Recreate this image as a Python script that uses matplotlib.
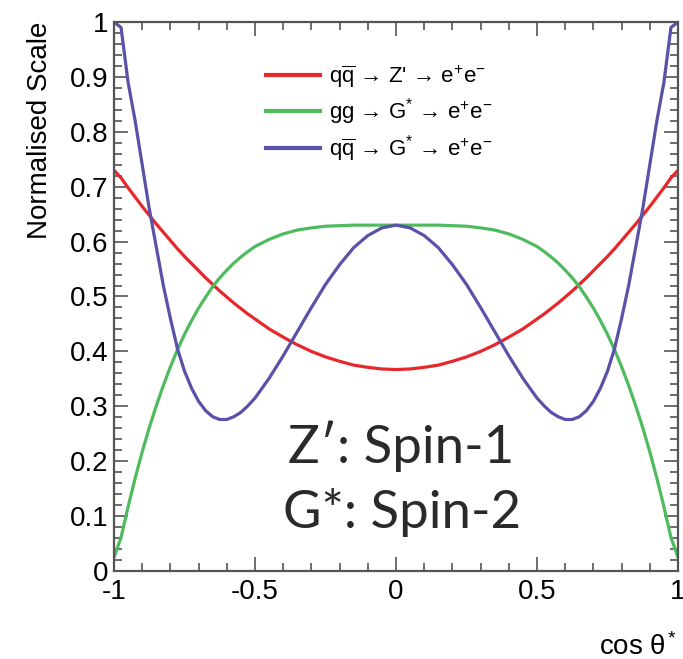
import numpy as np
import matplotlib
matplotlib.use("Agg")
import matplotlib.pyplot as plt
from matplotlib.ticker import MultipleLocator

plt.rcParams['font.family'] = ['Liberation Sans', 'DejaVu Sans']
plt.rcParams['mathtext.fontset'] = 'custom'
plt.rcParams['mathtext.rm'] = 'Liberation Sans'
plt.rcParams['mathtext.it'] = 'Liberation Sans'
plt.rcParams['axes.unicode_minus'] = False

# cos(theta*) points (finer near the edges)
cos_theta = [-1.0, -0.975, -0.95, -0.925, -0.9, -0.875, -0.85, -0.825, -0.8, -0.775,
             -0.75, -0.725, -0.7, -0.675, -0.65, -0.625, -0.6, -0.575, -0.55, -0.525,
             -0.5, -0.45, -0.4, -0.35, -0.3, -0.25, -0.2, -0.15, -0.1, -0.05, 0.0,
             0.05, 0.1, 0.15, 0.2, 0.25, 0.3, 0.35, 0.4, 0.45, 0.5,
             0.525, 0.55, 0.575, 0.6, 0.625, 0.65, 0.675, 0.7, 0.725, 0.75,
             0.775, 0.8, 0.825, 0.85, 0.875, 0.9, 0.925, 0.95, 0.975, 1.0]

# q qbar -> Z' -> e+e-
z_spin1 = [0.730, 0.716, 0.698, 0.681, 0.664, 0.648, 0.632, 0.617, 0.602, 0.587,
           0.573, 0.560, 0.547, 0.534, 0.522, 0.510, 0.499, 0.488, 0.478, 0.468,
           0.459, 0.441, 0.426, 0.412, 0.400, 0.390, 0.382, 0.375, 0.371, 0.368, 0.367,
           0.368, 0.371, 0.375, 0.382, 0.390, 0.400, 0.412, 0.426, 0.441, 0.459,
           0.468, 0.478, 0.488, 0.499, 0.510, 0.522, 0.534, 0.547, 0.560, 0.573,
           0.587, 0.602, 0.617, 0.632, 0.648, 0.664, 0.681, 0.698, 0.716, 0.730]

# gg -> G* -> e+e-
g_gg = [0.025, 0.061, 0.117, 0.169, 0.217, 0.261, 0.301, 0.338, 0.372, 0.403,
        0.431, 0.456, 0.479, 0.499, 0.518, 0.534, 0.548, 0.561, 0.572, 0.582,
        0.591, 0.604, 0.614, 0.621, 0.625, 0.628, 0.629, 0.630, 0.630, 0.630, 0.630,
        0.630, 0.630, 0.630, 0.629, 0.628, 0.625, 0.621, 0.614, 0.604, 0.591,
        0.582, 0.572, 0.561, 0.548, 0.534, 0.518, 0.499, 0.479, 0.456, 0.431,
        0.403, 0.372, 0.338, 0.301, 0.261, 0.217, 0.169, 0.117, 0.061, 0.025]

# q qbar -> G* -> e+e-
g_qq = [1.0, 0.99, 0.89, 0.82, 0.74, 0.66, 0.59, 0.52, 0.46, 0.405,
        0.364, 0.333, 0.309, 0.292, 0.281, 0.276, 0.276, 0.281, 0.289, 0.301,
        0.315, 0.351, 0.392, 0.436, 0.480, 0.522, 0.558, 0.589, 0.611, 0.625, 0.630,
        0.625, 0.611, 0.589, 0.558, 0.522, 0.480, 0.436, 0.392, 0.351, 0.315,
        0.301, 0.289, 0.281, 0.276, 0.276, 0.281, 0.292, 0.309, 0.333, 0.364,
        0.405, 0.46, 0.52, 0.59, 0.66, 0.74, 0.82, 0.89, 0.99, 1.0]

labels = [r"$\mathrm{q\overline{q}}$ → Z' → e$^{+}$e$^{-}$",
          r"gg → G$^{*}$ → e$^{+}$e$^{-}$",
          r"$\mathrm{q\overline{q}}$ → G$^{*}$ → e$^{+}$e$^{-}$"]
colors = ['#e8272b', '#4fbb5e', '#5a51a8']

fig = plt.figure(figsize=(6.83, 6.59), dpi=100)
ax = fig.add_axes([114 / 683, 1 - 571 / 659, 564 / 683, 549 / 659])

for ys, lab, col in zip([z_spin1, g_gg, g_qq], labels, colors):
    ax.plot(cos_theta, ys, color=col, lw=2.3, label=lab)

ax.set_xlim(-1, 1)
ax.set_ylim(0, 1)

ax.xaxis.set_major_locator(MultipleLocator(0.5))
ax.xaxis.set_minor_locator(MultipleLocator(0.1))
ax.yaxis.set_major_locator(MultipleLocator(0.1))
ax.yaxis.set_minor_locator(MultipleLocator(0.02))
ax.xaxis.set_major_formatter(plt.FuncFormatter(lambda v, p: ('%g' % v)))
ax.yaxis.set_major_formatter(plt.FuncFormatter(lambda v, p: ('%g' % v)))

frame_col = '#555555'
for s in ax.spines.values():
    s.set_color(frame_col)
    s.set_linewidth(1.6)
ax.tick_params(which='both', direction='in', top=True, right=True,
               color=frame_col, width=1.2, labelsize=20)
ax.tick_params(which='major', length=10, pad=4)
ax.tick_params(which='minor', length=5.5)
ax.tick_params(axis='x', which='major', pad=6)

ax.set_ylabel('Normalised Scale', fontsize=20, loc='top', labelpad=12)
fig.text(677 / 683, 1 - 655 / 659, r'cos $\theta^{*}$', fontsize=20,
         ha='right', va='baseline')

ax.legend(loc='upper left', bbox_to_anchor=(0.27, 0.925), frameon=False,
          fontsize=16, handlelength=2.4, handletextpad=0.4, labelspacing=0.28,
          borderpad=0, borderaxespad=0)
for ln in ax.get_legend().get_lines():
    ln.set_linewidth(3)

big = dict(fontsize=38, family=['Lato', 'DejaVu Sans'], fontweight='normal',
           color='#2a2a2a')
ax.text(0.308, 0.197, 'Z′: Spin-1', transform=ax.transAxes, **big)
ax.text(0.300, 0.078, 'G*: Spin-2', transform=ax.transAxes, **big)

fig.savefig('out.png', dpi=100)
